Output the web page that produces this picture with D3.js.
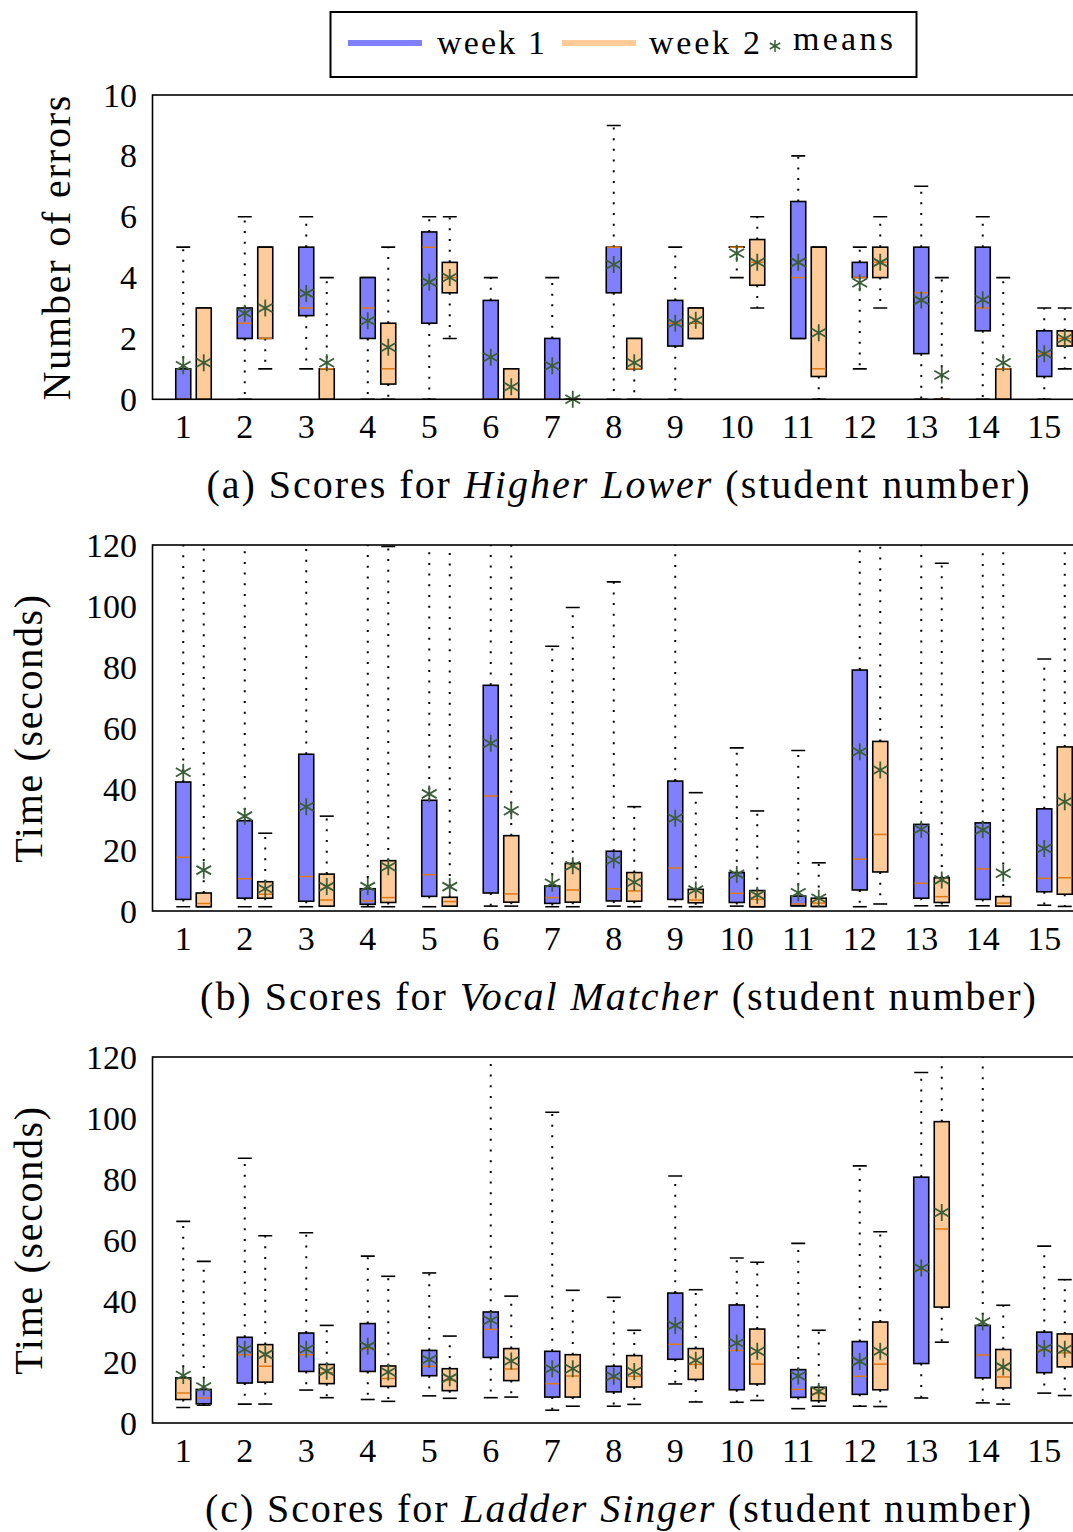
<!DOCTYPE html>
<html>
<head>
<meta charset="utf-8">
<script src="https://cdn.jsdelivr.net/npm/d3@7/dist/d3.min.js"></script>
<style>
  body { margin: 0; background: #fff; }
  text { font-family: "Liberation Serif", "DejaVu Serif", serif; fill: #000; }
</style>
</head>
<body>
<svg id="chart" width="1073" height="1532"></svg>
<script>
// students on the x axis
var students = [1, 2, 3, 4, 5, 6, 7, 8, 9, 10, 11, 12, 13, 14, 15];

// each row: [lower whisker, q1, median, q3, upper whisker, mean]
// whiskers that run off the top of the chart are given as 130
var higherLowerWeek1 = [
  [0, 0, 0, 1, 5, 1.1], [0, 2, 2.5, 3, 6, 2.83], [1, 2.75, 3, 5, 6, 3.48],
  [0, 2, 3, 4, 4, 2.58], [0, 2.5, 5, 5.5, 6, 3.85], [0, 0, 0, 3.25, 4, 1.38],
  [0, 0, 0, 2, 4, 1.1], [0, 3.5, 5, 5, 9, 4.43], [0, 1.75, 2.5, 3.25, 5, 2.5],
  [4, 5, 5, 5, 5, 4.8], [2, 2, 4, 6.5, 8, 4.5], [1, 4, 4, 4.5, 5, 3.83],
  [0, 1.5, 3.5, 5, 7, 3.26], [0, 2.25, 3, 5, 6, 3.27], [0, 0.75, 1.5, 2.25, 3, 1.5]
];
var higherLowerWeek2 = [
  [0, 0, 0, 3, 3, 1.2], [1, 2, 2, 5, 5, 3.0], [0, 0, 1, 1, 4, 1.2],
  [0, 0.5, 1, 2.5, 5, 1.71], [2, 3.5, 4, 4.5, 6, 4.0], [0, 0, 0, 1, 1, 0.41],
  [0, 0, 0, 0, 0, 0], [0, 1, 1, 2, 2, 1.2], [2, 2, 2.5, 3, 3, 2.6],
  [3, 3.75, 4.5, 5.25, 6, 4.5], [0, 0.75, 1, 5, 5, 2.19], [3, 4, 4.5, 5, 6, 4.5],
  [0, 0, 0, 0, 4, 0.8], [0, 0, 1, 1, 4, 1.2], [1, 1.75, 2, 2.25, 3, 2.0]
];

var vocalWeek1 = [
  [1.4, 3.8, 17.6, 42.3, 130, 45.5], [1.4, 4.2, 10.6, 29.6, 130, 31.1], [1.4, 3.2, 11.3, 51.4, 130, 34.2],
  [1.4, 2.2, 3.3, 7.3, 130, 8.0], [1.4, 4.8, 11.9, 36.3, 130, 38.4], [1.6, 5.9, 37.7, 74.0, 130, 55.0],
  [1.4, 2.5, 4.4, 8.2, 86.8, 9.1], [1.6, 3.3, 7.3, 19.6, 107.9, 16.7], [1.4, 3.8, 14.1, 42.6, 130, 30.4],
  [1.6, 2.8, 5.8, 12.6, 53.5, 12.0], [1.7, 1.7, 2.3, 4.9, 52.6, 6.0], [1.4, 6.9, 17.0, 79.0, 130, 52.2],
  [1.7, 4.2, 9.1, 28.4, 130, 26.8], [1.7, 3.8, 13.8, 28.9, 130, 26.6], [1.9, 6.3, 10.7, 33.5, 82.6, 20.5]
];
var vocalWeek2 = [
  [1.4, 1.4, 2.5, 5.9, 130, 13.4], [1.4, 4.2, 5.5, 9.6, 25.5, 7.3], [1.6, 1.6, 3.6, 12.1, 31.1, 8.0],
  [1.4, 2.8, 4.4, 16.5, 119.5, 14.5], [1.6, 1.6, 3.1, 4.5, 130, 8.0], [1.6, 2.9, 5.6, 24.7, 130, 32.9],
  [1.4, 2.9, 6.9, 15.6, 99.5, 14.8], [1.4, 3.2, 6.6, 12.6, 34.2, 9.4], [1.4, 2.7, 3.6, 7.1, 38.8, 6.9],
  [1.4, 1.4, 3.8, 6.7, 32.8, 5.2], [1.5, 1.5, 2.6, 4.2, 15.8, 4.2], [2.3, 12.8, 25.1, 55.6, 130, 46.2],
  [1.7, 2.8, 4.7, 10.9, 114.0, 10.2], [1.6, 1.6, 2.6, 4.7, 130, 12.4], [1.5, 5.5, 10.9, 53.8, 130, 35.8]
];

var ladderWeek1 = [
  [5.1, 7.7, 9.8, 14.8, 66.1, 15.6], [6.2, 13.1, 22.4, 28.1, 86.8, 24.2], [10.8, 16.9, 22.4, 29.5, 62.4, 24.2],
  [7.7, 16.9, 24.4, 32.6, 54.7, 25.2], [8.9, 15.5, 18.6, 23.8, 49.2, 20.8], [8.3, 21.5, 30.7, 36.4, 130, 33.7],
  [4.2, 8.5, 12.9, 23.5, 101.9, 17.8], [5.5, 10.2, 14.6, 18.6, 41.2, 15.3], [12.8, 20.9, 25.8, 42.6, 81.0, 32.0],
  [6.8, 10.9, 23.8, 38.7, 54.1, 26.2], [4.7, 8.4, 11.0, 17.5, 58.9, 15.4], [5.5, 9.4, 15.3, 26.7, 84.3, 20.2],
  [8.2, 19.5, 50.1, 80.6, 114.9, 50.8], [6.6, 14.8, 22.3, 32.0, 130, 33.1], [9.8, 16.5, 23.8, 29.8, 58.0, 24.4]
];
var ladderWeek2 = [
  [5.8, 6.3, 8.2, 11.0, 53.0, 11.8], [6.2, 13.4, 18.6, 25.7, 61.4, 22.5], [8.3, 12.9, 16.5, 19.2, 32.0, 17.0],
  [7.1, 12.0, 14.6, 18.7, 48.1, 16.7], [8.1, 10.6, 14.0, 17.8, 28.5, 14.8], [8.5, 13.9, 17.7, 24.4, 41.6, 20.3],
  [5.5, 8.5, 15.4, 22.4, 43.5, 17.8], [6.1, 11.8, 15.3, 22.1, 30.4, 16.9], [6.9, 14.3, 19.2, 24.4, 43.7, 20.6],
  [7.4, 12.8, 19.3, 30.8, 52.7, 23.5], [5.5, 7.3, 9.6, 11.7, 30.4, 10.4], [5.4, 10.9, 19.3, 33.1, 62.7, 23.5],
  [26.5, 38.0, 63.6, 98.8, 130, 69.0], [6.2, 11.5, 15.1, 24.1, 38.6, 18.4], [9.0, 18.4, 23.0, 29.2, 47.0, 24.2]
];
// in the original plot the first pair of Ladder Singer boxes has its colours swapped
var ladderSwapped = [1];

var errorTicks = [0, 2, 4, 6, 8, 10];
var timeTicks = [0, 20, 40, 60, 80, 100, 120];

var blue = "#8080ff", peach = "#ffcc99", median = "#e07810", meanColor = "#3b5e38";

var svg = d3.select("#chart");
var x = d3.scaleLinear().domain([0.5, 15.5]).range([152.5, 1075]);
var week2Shift = 1 / 3, boxW = 15;

function starPath(cx, cy, r) {
  var dx = r * Math.cos(Math.PI / 6), dy = r * Math.sin(Math.PI / 6);
  return "M" + cx + "," + (cy - r) + "L" + cx + "," + (cy + r) +
    "M" + (cx - dx) + "," + (cy - dy) + "L" + (cx + dx) + "," + (cy + dy) +
    "M" + (cx - dx) + "," + (cy + dy) + "L" + (cx + dx) + "," + (cy - dy);
}

// stretch a label with letter spacing so it covers the same width as the original (Computer Modern is wider)
function fitWidth(sel, target) {
  var n = sel.text().length;
  var w = sel.node().getComputedTextLength();
  if (n > 1) sel.attr("letter-spacing", ((target - w) / (n - 1)).toFixed(2));
}

function drawPanel(cfg, idx) {
  var y = d3.scaleLinear().domain(cfg.domain).range([cfg.bottom, cfg.top]);
  var g = svg.append("g");
  var clipId = "clip" + idx;
  svg.append("clipPath").attr("id", clipId).append("rect")
    .attr("x", x(0.5)).attr("y", cfg.top).attr("width", x(15.5) - x(0.5)).attr("height", cfg.bottom - cfg.top);

  var marks = g.append("g").attr("clip-path", "url(#" + clipId + ")");

  var series = [
    { rows: cfg.week1, shift: 0, fill: blue },
    { rows: cfg.week2, shift: week2Shift, fill: peach }
  ];

  series.forEach(function (s, si) {
    var grp = marks.selectAll(".s" + si).data(s.rows).enter().append("g");
    function cx(d, i) { return x(students[i] + s.shift); }
    function fillOf(d, i) {
      if (cfg.swapped && cfg.swapped.indexOf(students[i]) >= 0) return si === 0 ? peach : blue;
      return s.fill;
    }
    // whiskers
    grp.append("line").attr("x1", cx).attr("x2", cx)
      .attr("y1", function (d) { return y(d[3]); }).attr("y2", function (d) { return y(d[4]); })
      .attr("stroke", "#000").attr("stroke-width", 2).attr("stroke-dasharray", "2 8.7");
    grp.append("line").attr("x1", cx).attr("x2", cx)
      .attr("y1", function (d) { return y(d[1]); }).attr("y2", function (d) { return y(d[0]); })
      .attr("stroke", "#000").attr("stroke-width", 2).attr("stroke-dasharray", "2 8.7");
    // caps
    [0, 4].forEach(function (k) {
      grp.append("line")
        .attr("x1", function (d, i) { return cx(d, i) - 7; }).attr("x2", function (d, i) { return cx(d, i) + 7; })
        .attr("y1", function (d) { return y(d[k]); }).attr("y2", function (d) { return y(d[k]); })
        .attr("stroke", "#000").attr("stroke-width", 1.6);
    });
    // box
    grp.append("rect")
      .attr("x", function (d, i) { return cx(d, i) - boxW / 2; })
      .attr("y", function (d) { return y(d[3]); })
      .attr("width", boxW)
      .attr("height", function (d) { return Math.max(0.01, y(d[1]) - y(d[3])); })
      .attr("fill", fillOf).attr("stroke", "#000").attr("stroke-width", 1.6);
    // median
    grp.append("line")
      .attr("x1", function (d, i) { return cx(d, i) - boxW / 2 + 0.8; })
      .attr("x2", function (d, i) { return cx(d, i) + boxW / 2 - 0.8; })
      .attr("y1", function (d) { return y(d[2]); }).attr("y2", function (d) { return y(d[2]); })
      .attr("stroke", median).attr("stroke-width", 1.5);
  });

  // means on top
  series.forEach(function (s) {
    g.append("g").selectAll("path").data(s.rows).enter().append("path")
      .attr("d", function (d, i) { return starPath(x(students[i] + s.shift), y(d[5]), 8.5); })
      .attr("stroke", meanColor).attr("stroke-width", 1.8).attr("fill", "none");
  });

  // frame
  g.append("rect").attr("x", x(0.5)).attr("y", cfg.top)
    .attr("width", x(15.5) - x(0.5)).attr("height", cfg.bottom - cfg.top)
    .attr("fill", "none").attr("stroke", "#000").attr("stroke-width", 1.6);

  // y tick labels
  g.selectAll(".yt").data(cfg.ticks).enter().append("text")
    .attr("x", 137).attr("y", function (d) { return y(d) + 11.5; })
    .attr("text-anchor", "end").attr("font-size", 34).text(function (d) { return d; });

  // x tick labels
  g.selectAll(".xt").data(students).enter().append("text")
    .attr("x", function (d) { return x(d); }).attr("y", cfg.bottom + 38.5)
    .attr("text-anchor", "middle").attr("font-size", 34).text(function (d) { return d; });

  // y axis title
  var yl = g.append("text")
    .attr("transform", "translate(" + cfg.labelX + "," + ((cfg.top + cfg.bottom) / 2) + ") rotate(-90)")
    .attr("text-anchor", "middle").attr("font-size", 40).text(cfg.yLabel);
  fitWidth(yl, cfg.labelW);

  // caption
  var cap = g.append("text").attr("x", 619).attr("y", cfg.captionY)
    .attr("text-anchor", "middle").attr("font-size", 40);
  cap.append("tspan").text(cfg.caption[0]);
  cap.append("tspan").attr("font-style", "italic").text(cfg.caption[1]);
  cap.append("tspan").text(cfg.caption[2]);
  fitWidth(cap, cfg.captionW);
}

var panels = [
  { top: 95, bottom: 399.3, domain: [0, 10], ticks: errorTicks, week1: higherLowerWeek1, week2: higherLowerWeek2,
    yLabel: "Number of errors", labelX: 70, labelW: 305, captionY: 498, captionW: 823,
    caption: ["(a) Scores for ", "Higher Lower", " (student number)"] },
  { top: 545, bottom: 911, domain: [0, 120], ticks: timeTicks, week1: vocalWeek1, week2: vocalWeek2,
    yLabel: "Time (seconds)", labelX: 42, labelW: 268, captionY: 1010, captionW: 836,
    caption: ["(b) Scores for ", "Vocal Matcher", " (student number)"] },
  { top: 1057, bottom: 1423, domain: [0, 120], ticks: timeTicks, week1: ladderWeek1, week2: ladderWeek2,
    yLabel: "Time (seconds)", labelX: 42, labelW: 268, captionY: 1522, captionW: 826, swapped: ladderSwapped,
    caption: ["(c) Scores for ", "Ladder Singer", " (student number)"] }
];
panels.forEach(drawPanel);

// legend
var lg = svg.append("g");
lg.append("rect").attr("x", 330.5).attr("y", 12).attr("width", 586).attr("height", 65)
  .attr("fill", "#fff").attr("stroke", "#000").attr("stroke-width", 2);
lg.append("line").attr("x1", 348).attr("x2", 422).attr("y1", 43).attr("y2", 43).attr("stroke", blue).attr("stroke-width", 6);
fitWidth(lg.append("text").attr("x", 437).attr("y", 54).attr("font-size", 34).text("week 1"), 108);
lg.append("line").attr("x1", 562).attr("x2", 636).attr("y1", 43).attr("y2", 43).attr("stroke", peach).attr("stroke-width", 6);
fitWidth(lg.append("text").attr("x", 649).attr("y", 54).attr("font-size", 34).text("week 2"), 111);
lg.append("path").attr("d", starPath(775, 46, 6)).attr("stroke", meanColor).attr("stroke-width", 1.5).attr("fill", "none");
fitWidth(lg.append("text").attr("x", 793).attr("y", 50).attr("font-size", 34).text("means"), 100);
</script>
</body>
</html>
